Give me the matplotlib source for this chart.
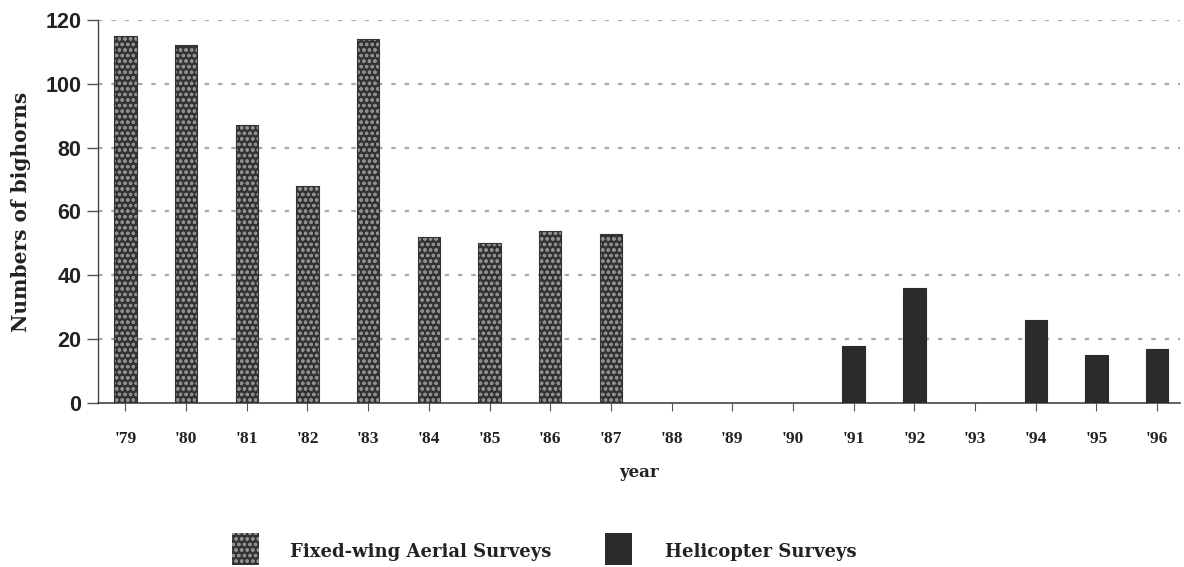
import matplotlib
matplotlib.use("Agg")
import matplotlib.pyplot as plt
from matplotlib.patches import Rectangle

years = ["'79", "'80", "'81", "'82", "'83", "'84", "'85", "'86", "'87",
         "'88", "'89", "'90", "'91", "'92", "'93", "'94", "'95", "'96"]
fixed_wing = [115, 112, 87, 68, 114, 52, 50, 54, 53, 0, 0, 0, 0, 0, 0, 0, 0, 0]
helicopter = [0, 0, 0, 0, 0, 0, 0, 0, 0, 0, 0, 0, 18, 36, 0, 26, 15, 17]
yticks = [0, 20, 40, 60, 80, 100, 120]

plt.rcParams['hatch.linewidth'] = 0.9
fig = plt.figure(figsize=(11.84, 5.67), dpi=100)
ax = fig.add_axes([0.0828, 0.289, 0.914, 0.676])

x = list(range(len(years)))
w = 0.37
fw_x = [i for i, v in zip(x, fixed_wing) if v > 0]
fw_v = [v for v in fixed_wing if v > 0]
hc_x = [i for i, v in zip(x, helicopter) if v > 0]
hc_v = [v for v in helicopter if v > 0]

ax.bar(fw_x, fw_v, width=w, facecolor='#333333', edgecolor='#8f8f8f', hatch='ooo',
       linewidth=0, zorder=3)
ax.bar(fw_x, fw_v, width=w, facecolor='none', edgecolor='#333333', linewidth=0.8, zorder=4)
ax.bar(hc_x, hc_v, width=w, facecolor='#2b2b2b', edgecolor='#2b2b2b', linewidth=0.8, zorder=3)

ax.set_xlim(-0.45, 17.38)
ax.set_ylim(0, 120)
ax.set_yticks(yticks)
ax.set_yticklabels([str(t) for t in yticks], fontsize=15.5, fontweight='bold',
                   family='Liberation Sans', color='#222222')
ax.set_xticks(x)
ax.set_xticklabels(years, fontsize=12.5, fontweight='bold', family='Liberation Serif',
                   color='#222222')
ax.tick_params(axis='x', length=6, width=0.8, color='#555555', pad=14)
ax.tick_params(axis='y', length=8, width=1.0, color='#555555', pad=4)

for t in yticks[1:]:
    ax.axhline(t, color='#aaaaaa', linestyle=(0, (2, 4)), linewidth=1.6, zorder=1)

for s in ['top', 'right']:
    ax.spines[s].set_visible(False)
ax.spines['left'].set_color('#444444')
ax.spines['bottom'].set_color('#444444')
ax.spines['left'].set_linewidth(1.0)
ax.spines['bottom'].set_linewidth(1.2)

ax.set_xlabel('year', fontsize=12, fontweight='bold', family='DejaVu Serif',
              color='#222222', labelpad=12)
ax.set_ylabel('Numbers of bighorns', fontsize=14.5, fontweight='bold',
              family='DejaVu Serif', color='#222222', labelpad=10)

# legend
fig.add_artist(Rectangle((232 / 1184, 1 - 565 / 567), 27 / 1184, 32 / 567,
                         transform=fig.transFigure, facecolor='#333333',
                         edgecolor='#8f8f8f', hatch='ooo', linewidth=0))
fig.text(290 / 1184, 1 - 552 / 567, 'Fixed-wing Aerial Surveys', fontsize=13,
         fontweight='bold', family='DejaVu Serif', color='#222222', va='center')
fig.add_artist(Rectangle((605 / 1184, 1 - 565 / 567), 27 / 1184, 32 / 567,
                         transform=fig.transFigure, facecolor='#2b2b2b',
                         edgecolor='#2b2b2b', linewidth=0))
fig.text(665 / 1184, 1 - 552 / 567, 'Helicopter Surveys', fontsize=13,
         fontweight='bold', family='DejaVu Serif', color='#222222', va='center')

fig.savefig('out.png', dpi=100)
